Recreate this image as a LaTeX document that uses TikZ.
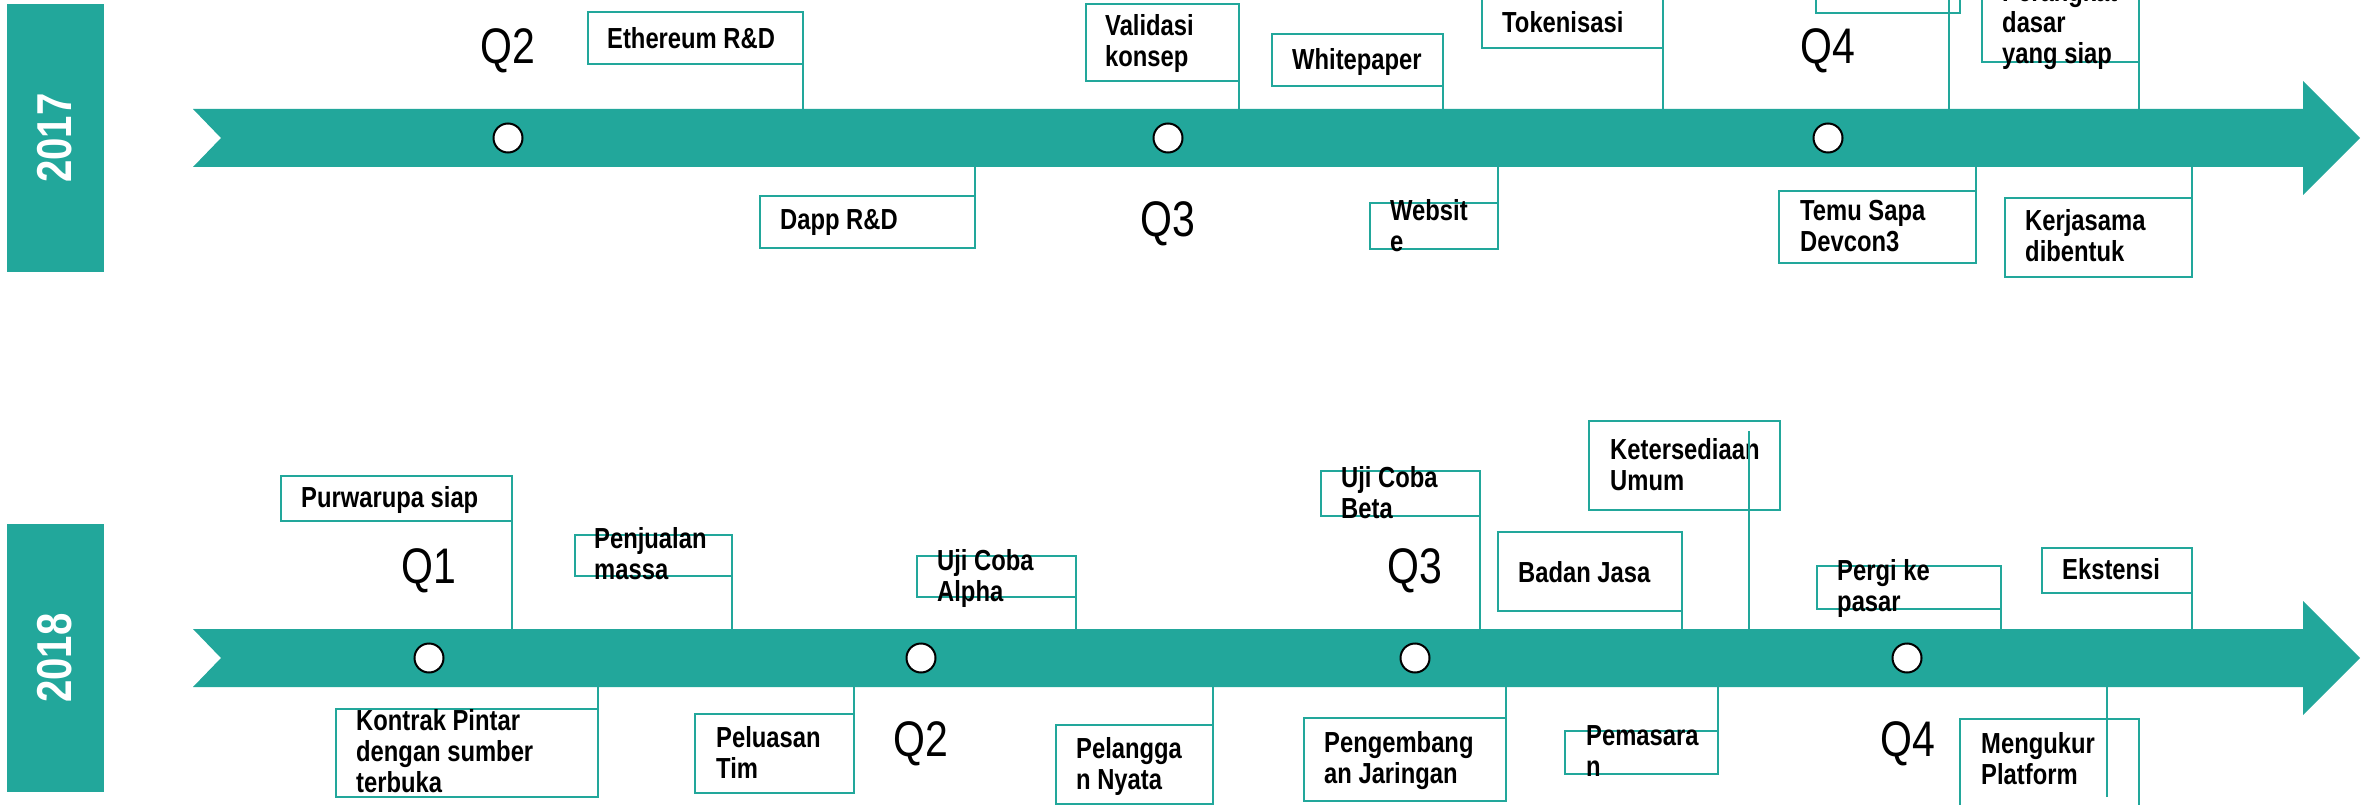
\documentclass[tikz,border=0pt]{standalone}
\usepackage{fontspec}
\setmainfont{Liberation Sans}
\newfontfamily\narrowfont[FakeStretch=0.82]{Liberation Sans}
\usepackage{xcolor}
\usetikzlibrary{calc,positioning}
\definecolor{roadteal}{HTML}{22A79B}

\begin{document}
\begin{tikzpicture}[x=1pt,y=-1pt]
  \tikzstyle{every node}=[inner sep=0pt]
  \tikzstyle{mbox}=[rectangle,draw=roadteal,line width=2.5pt,outer sep=0pt,anchor=north west]
  \tikzstyle{mtext}=[anchor=north west,align=left,font=\narrowfont\bfseries\fontsize{29}{31}\selectfont]
  \tikzstyle{link}=[draw=roadteal,line width=2.5pt]
  \tikzstyle{qlabel}=[font=\narrowfont\fontsize{50}{50}\selectfont]
  \tikzstyle{dot}=[circle,draw=black,fill=white,line width=2pt,minimum size=29pt]
  \tikzstyle{yearbox}=[fill=roadteal,text=white,rotate=90,minimum width=268pt,minimum height=97pt,font=\narrowfont\bfseries\fontsize{49}{49}\selectfont]

  \useasboundingbox (0,0) rectangle (2364,805);

  % the two year arrows
  \foreach \yy/\yr in {138/2017,658/2018}{
    \node[yearbox] (year\yr) at (55,\yy) {\yr};
    \fill[roadteal] (193,\yy-29) -- (2303,\yy-29) -- (2303,\yy-57) -- (2360,\yy)
      -- (2303,\yy+57) -- (2303,\yy+29) -- (193,\yy+29) -- (221,\yy) -- cycle;
    \coordinate (top\yr) at (0,\yy-29);
    \coordinate (bot\yr) at (0,\yy+29);
  }

  % 2017
  \node[dot] (a-q2) at (508,138) {};
  \node[dot] (a-q3) at (1168,138) {};
  \node[dot] (a-q4) at (1828,138) {};
  \node[qlabel] (a-l2) at (508,51) {Q2};
  \node[qlabel] (a-l3) at (1168,224) {Q3};
  \node[qlabel] (a-l4) at (1828,51) {Q4};

  \node[mbox,minimum width=215pt,minimum height=52pt] (eth) at (588,12) {};
  \node[mtext] (eth-t) at (607,27) {Ethereum R\&D};
  \draw[link] (eth.south east) -- (eth.south east |- top2017);

  \node[mbox,minimum width=153pt,minimum height=77pt] (valid) at (1086,4) {};
  \node[mtext] (valid-t) at (1105,14) {Validasi\\konsep};
  \draw[link] (valid.south east) -- (valid.south east |- top2017);

  \node[mbox,minimum width=171pt,minimum height=52pt] (white) at (1272,34) {};
  \node[mtext] (white-t) at (1292,48) {Whitepaper};
  \draw[link] (white.south east) -- (white.south east |- top2017);

  \node[mbox,minimum width=181pt,minimum height=68pt] (token) at (1482,-20) {};
  \node[mtext] (token-t) at (1502,11) {Tokenisasi};
  \draw[link] (token.south east) -- (token.south east |- top2017);

  \node[mbox,minimum width=144pt,minimum height=73pt] (hidden) at (1816,-60) {};
  \coordinate (hidden-c) at (1949,-30);
  \draw[link] (hidden-c) -- (hidden-c |- top2017);

  \node[mbox,minimum width=157pt,minimum height=102pt] (perangkat) at (1982,-40) {};
  \node[mtext] (perangkat-t) at (2002,-20) {Perangkat\\dasar\\yang siap};
  \draw[link] (perangkat.south east) -- (perangkat.south east |- top2017);

  \node[mbox,minimum width=215pt,minimum height=52pt] (dapp) at (760,196) {};
  \node[mtext] (dapp-t) at (780,209) {Dapp R\&D};
  \draw[link] (dapp.north east) -- (dapp.north east |- bot2017);

  \node[mbox,minimum width=128pt,minimum height=46pt] (web) at (1370,203) {};
  \node[mtext] (web-t) at (1390,199) {Websit\\e};
  \draw[link] (web.north east) -- (web.north east |- bot2017);

  \node[mbox,minimum width=197pt,minimum height=72pt] (temu) at (1779,191) {};
  \node[mtext] (temu-t) at (1800,200) {Temu Sapa\\Devcon3};
  \draw[link] (temu.north east) -- (temu.north east |- bot2017);

  \node[mbox,minimum width=187pt,minimum height=79pt] (kerja) at (2005,198) {};
  \node[mtext] (kerja-t) at (2025,209) {Kerjasama\\dibentuk};
  \draw[link] (kerja.north east) -- (kerja.north east |- bot2017);

  % 2018
  \node[dot] (b-q1) at (429,658) {};
  \node[dot] (b-q2) at (921,658) {};
  \node[dot] (b-q3) at (1415,658) {};
  \node[dot] (b-q4) at (1907,658) {};
  \node[qlabel] (b-l1) at (429,571) {Q1};
  \node[qlabel] (b-l2) at (921,744) {Q2};
  \node[qlabel] (b-l3) at (1415,571) {Q3};
  \node[qlabel] (b-l4) at (1908,744) {Q4};

  \node[mbox,minimum width=231pt,minimum height=45pt] (purw) at (281,476) {};
  \node[mtext] (purw-t) at (301,486) {Purwarupa siap};
  \draw[link] (purw.south east) -- (purw.south east |- top2018);

  \node[mbox,minimum width=157pt,minimum height=41pt] (penj) at (575,535) {};
  \node[mtext] (penj-t) at (594,527) {Penjualan\\massa};
  \draw[link] (penj.south east) -- (penj.south east |- top2018);

  \node[mbox,minimum width=159pt,minimum height=41pt] (alpha) at (917,556) {};
  \node[mtext] (alpha-t) at (937,549) {Uji Coba\\Alpha};
  \draw[link] (alpha.south east) -- (alpha.south east |- top2018);

  \node[mbox,minimum width=159pt,minimum height=45pt] (beta) at (1321,471) {};
  \node[mtext] (beta-t) at (1341,466) {Uji Coba\\Beta};
  \draw[link] (beta.south east) -- (beta.south east |- top2018);

  \node[mbox,minimum width=184pt,minimum height=79pt] (badan) at (1498,532) {};
  \node[mtext] (badan-t) at (1518,561) {Badan Jasa};
  \draw[link] (badan.south east) -- (badan.south east |- top2018);

  \node[mbox,minimum width=191pt,minimum height=89pt] (keter) at (1589,421) {};
  \node[mtext] (keter-t) at (1610,438) {Ketersediaan\\Umum};
  \coordinate (keter-c) at (1749,431);
  \draw[link] (keter-c) -- (keter-c |- top2018);

  \node[mbox,minimum width=184pt,minimum height=43pt] (pergi) at (1817,566) {};
  \node[mtext] (pergi-t) at (1837,559) {Pergi ke\\pasar};
  \draw[link] (pergi.south east) -- (pergi.south east |- top2018);

  \node[mbox,minimum width=150pt,minimum height=45pt] (ekst) at (2042,548) {};
  \node[mtext] (ekst-t) at (2062,558) {Ekstensi};
  \draw[link] (ekst.south east) -- (ekst.south east |- top2018);

  \node[mbox,minimum width=262pt,minimum height=88pt] (kontrak) at (336,709) {};
  \node[mtext] (kontrak-t) at (356,709) {Kontrak Pintar\\dengan sumber\\terbuka};
  \draw[link] (kontrak.north east) -- (kontrak.north east |- bot2018);

  \node[mbox,minimum width=159pt,minimum height=79pt] (luas) at (695,714) {};
  \node[mtext] (luas-t) at (716,726) {Peluasan\\Tim};
  \draw[link] (luas.north east) -- (luas.north east |- bot2018);

  \node[mbox,minimum width=157pt,minimum height=79pt] (langgan) at (1056,725) {};
  \node[mtext] (langgan-t) at (1076,737) {Pelangga\\n Nyata};
  \draw[link] (langgan.north east) -- (langgan.north east |- bot2018);

  \node[mbox,minimum width=202pt,minimum height=83pt] (jaring) at (1304,718) {};
  \node[mtext] (jaring-t) at (1324,731) {Pengembang\\an Jaringan};
  \draw[link] (jaring.north east) -- (jaring.north east |- bot2018);

  \node[mbox,minimum width=153pt,minimum height=43pt] (pasar) at (1565,731) {};
  \node[mtext] (pasar-t) at (1586,725) {Pemasara\\n};
  \draw[link] (pasar.north east) -- (pasar.north east |- bot2018);

  \node[mbox,minimum width=179pt,minimum height=111pt] (ukur) at (1960,719) {};
  \node[mtext] (ukur-t) at (1981,732) {Mengukur\\Platform};
  \coordinate (ukur-c) at (2107,797);
  \draw[link] (ukur-c) -- (ukur-c |- bot2018);
\end{tikzpicture}
\end{document}
